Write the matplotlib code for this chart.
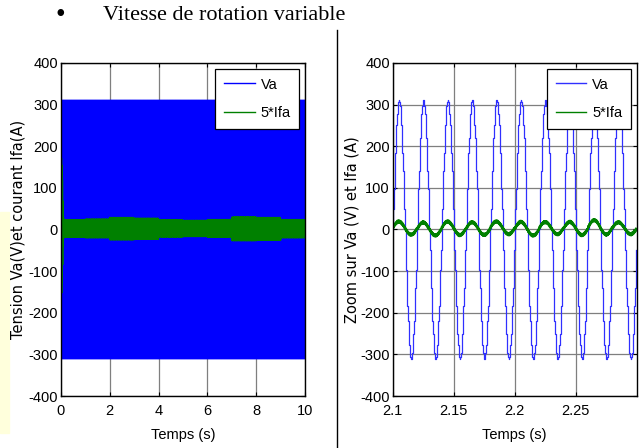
import numpy as np
import matplotlib.pyplot as plt
from matplotlib.patches import Rectangle
from matplotlib.lines import Line2D

# valeurs
f_reseau = 50.0        # Hz
va_crete = 311.0       # V

# essai 0-10 s : bande de 5*Ifa, seconde par seconde
i_haut_s = [24, 26, 30, 28, 24, 23, 25, 31, 30, 25]
i_bas_s = [-20, -21, -26, -24, -19, -18, -20, -28, -27, -21]
# pic au demarrage
i_pic_demar = 170.0
i_creux_demar = 160.0
duree_demar = 0.1      # s

# zoom 2.1-2.3 s : cretes et creux de 5*Ifa, periode par periode
i_pic = [22, 21, 22, 20, 22, 21, 22, 21, 25, 20]
i_creux = [-15, -17, -16, -17, -14, -17, -14, -16, -16, -14]

# ondulation haute frequence du courant
ond_freq = [1150, 2270, 3430]
ond_amp = [2.0, 1.5, 1.0]

xt_gauche = [0, 2, 4, 6, 8, 10]
xt_zoom = [2.1, 2.15, 2.2, 2.25]
xt_zoom_lab = ['2.1', '2.15', '2.2', '2.25']
yt = [-400, -300, -200, -100, 0, 100, 200, 300, 400]

plt.rcParams['font.family'] = ['Liberation Sans', 'DejaVu Sans']
plt.rcParams['font.size'] = 10.5
plt.rcParams['axes.unicode_minus'] = False


def ondulation(t):
    s = np.zeros_like(t)
    for f, a in zip(ond_freq, ond_amp):
        s += a * np.sin(2 * np.pi * f * t)
    return s


# --- signaux 0-10 s ---
t1 = np.arange(0, 10, 1e-4)
w1 = 2 * np.pi * f_reseau * t1
va1 = va_crete * np.sin(w1)
sec = np.minimum(t1.astype(int), 9)
haut = np.array(i_haut_s, dtype=float)[sec]
bas = np.array(i_bas_s, dtype=float)[sec]
ia1 = (haut + bas) / 2 + ((haut - bas) / 2 - 4) * np.sin(w1) + ondulation(t1)
c = np.cos(w1)
amp_d = np.where(c > 0, i_pic_demar, i_creux_demar)
ia1 = ia1 + amp_d * np.exp(-(t1 / duree_demar) ** 4) * c

# --- signaux zoom ---
t2 = np.arange(2.1, 2.3, 5e-4)
va2 = va_crete * np.sin(2 * np.pi * f_reseau * t2)
t3 = np.arange(2.1, 2.3, 1e-4)
k = np.clip(((t3 - 2.1) * f_reseau).astype(int), 0, 9)
pic = np.array(i_pic, dtype=float)[k]
creux = np.array(i_creux, dtype=float)[k]
ia2 = (pic + creux) / 2 + ((pic - creux) / 2 - 3) * np.sin(2 * np.pi * f_reseau * t3) + ondulation(t3)

fig = plt.figure(figsize=(6.41, 4.48), dpi=100)

fig.add_artist(Rectangle((0, 1 - 433 / 448), 9 / 641, (433 - 212) / 448,
                         color='#FFFFDC', zorder=0))
fig.add_artist(Line2D([337 / 641, 337 / 641], [0, 1 - 30 / 448], color='black', lw=1))
fig.text(60 / 641, 1 - 16 / 448, '\u2022', family='Liberation Serif', fontsize=20,
         ha='center', va='center')
fig.text(103 / 641, 1 - 16 / 448, 'Vitesse de rotation variable',
         family='Liberation Serif', fontsize=16, va='center')

ax1 = fig.add_axes([60.7 / 641, 1 - 396 / 448, 244.5 / 641, 333 / 448])
ax2 = fig.add_axes([392.7 / 641, 1 - 396 / 448, 244 / 641, 333 / 448])

ax1.plot(t1, va1, color='#0000FF', lw=0.6, label='Va')
ax1.plot(t1, ia1, color='#008000', lw=0.7, label='5*Ifa')
ax1.set_xlim(0, 10)
ax1.set_xticks(xt_gauche)
ax1.set_ylabel('Tension Va(V)et courant Ifa(A)', family='DejaVu Sans', fontsize=10.5)
ax1.yaxis.set_label_coords(-0.146, 0.5)

ax2.plot(t2, va2, color='#3030FF', lw=0.9, drawstyle='steps-post', label='Va')
ax2.plot(t3, ia2, color='#008000', lw=1.4, label='5*Ifa')
ax2.set_xlim(2.1, 2.2999)
ax2.set_xticks(xt_zoom)
ax2.set_xticklabels(xt_zoom_lab)
ax2.set_ylabel('Zoom sur Va (V) et Ifa (A)', family='DejaVu Sans', fontsize=10.5)
ax2.yaxis.set_label_coords(-0.138, 0.5)

for ax in (ax1, ax2):
    ax.set_ylim(-400, 400)
    ax.set_yticks(yt)
    ax.set_xlabel('Temps (s)', labelpad=7)
    ax.grid(True, color='#7F7F7F', lw=0.9)
    ax.set_axisbelow(True)
    ax.tick_params(direction='in', top=True, right=True, length=3)
    ax.tick_params(axis='y', pad=2)
    ax.tick_params(axis='x', pad=6)
    for s in ax.spines.values():
        s.set_linewidth(1.0)
    leg = ax.legend(loc='upper right', fancybox=False, framealpha=1,
                    edgecolor='black', handlelength=2.1, handletextpad=0.4,
                    borderaxespad=0.4, labelspacing=1.0, borderpad=0.6)
    leg.get_frame().set_linewidth(0.9)
    for ln in leg.get_lines():
        ln.set_linewidth(1.0)

fig.savefig('out.png', dpi=100)
